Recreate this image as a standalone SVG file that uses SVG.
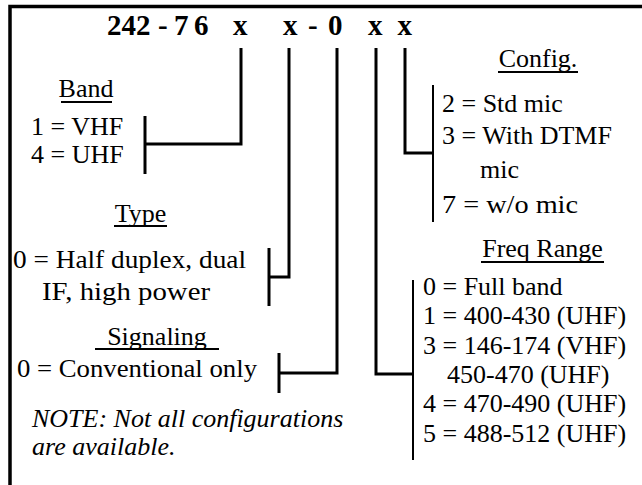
<svg xmlns="http://www.w3.org/2000/svg" width="642" height="485" viewBox="0 0 642 485">
<style>
.t{font-family:"Liberation Serif","Times New Roman",serif;font-size:26px;fill:#000}
.h{text-anchor:middle}
.i{font-style:italic}
.title{font-family:"Liberation Serif","Times New Roman",serif;font-size:29px;font-weight:bold;fill:#000}
.c{stroke:#000;stroke-width:3;fill:none}
.b{stroke:#000;stroke-width:2;fill:none}
.u{stroke:#000;stroke-width:2}
.frame{stroke:#000;stroke-width:3.5;fill:none}
</style>
<rect width="642" height="485" fill="#fff"/>
<path class="frame" d="M10,485 V6.5 H642"/>
<g id="title">
<text class="title" y="35"><tspan x="107">242</tspan><tspan x="158">-</tspan><tspan x="174">7</tspan><tspan x="194">6</tspan><tspan x="233">x</tspan><tspan x="283">x</tspan><tspan x="308">-</tspan><tspan x="328">0</tspan><tspan x="368">x</tspan><tspan x="397.5">x</tspan></text>
</g>
<g id="band">
<text class="t h" x="86" y="97">Band</text>
<line class="u" x1="61" y1="102" x2="112" y2="102"/>
<text class="t" x="31" y="135">1 = VHF</text>
<text class="t" x="31" y="163">4 = UHF</text>
<line class="c" x1="145" y1="116" x2="145" y2="174"/>
</g>
<g id="type">
<text class="t h" x="140.5" y="222">Type</text>
<line class="u" x1="114" y1="226" x2="167" y2="226"/>
<text class="t" x="13" y="268" textLength="233" lengthAdjust="spacingAndGlyphs">0 = Half duplex, dual</text>
<text class="t" x="42" y="300" textLength="168" lengthAdjust="spacingAndGlyphs">IF, high power</text>
<line class="c" x1="269" y1="248" x2="269" y2="306"/>
</g>
<g id="signaling">
<text class="t h" x="157" y="345">Signaling</text>
<line class="u" x1="95" y1="349" x2="219" y2="349"/>
<text class="t" x="17" y="377" textLength="240" lengthAdjust="spacingAndGlyphs">0 = Conventional only</text>
<line class="c" x1="279" y1="353" x2="279" y2="393"/>
</g>
<g id="note">
<text class="t i" x="32" y="427">NOTE: Not all configurations</text>
<text class="t i" x="32" y="455">are available.</text>
</g>
<g id="config">
<text class="t h" x="538" y="67">Config.</text>
<line class="u" x1="498" y1="72" x2="578" y2="72"/>
<text class="t" x="442" y="112">2 = Std mic</text>
<text class="t" x="442" y="144">3 = With DTMF</text>
<text class="t" x="480" y="178">mic</text>
<text class="t" x="442" y="213" textLength="136" lengthAdjust="spacingAndGlyphs">7 = w/o mic</text>
<line class="b" x1="433" y1="85" x2="433" y2="222"/>
</g>
<g id="freq">
<text class="t h" x="542.5" y="257">Freq Range</text>
<line class="u" x1="481" y1="262" x2="604" y2="262"/>
<text class="t" x="423" y="295">0 = Full band</text>
<text class="t" x="423" y="324">1 = 400-430 (UHF)</text>
<text class="t" x="423" y="354">3 = 146-174 (VHF)</text>
<text class="t" x="447" y="383">450-470 (UHF)</text>
<text class="t" x="423" y="412">4 = 470-490 (UHF)</text>
<text class="t" x="423" y="442">5 = 488-512 (UHF)</text>
<line class="b" x1="413" y1="280" x2="413" y2="460"/>
</g>
<g id="connectors">
<path class="c" d="M241,48 V144 H145"/>
<path class="c" d="M289,48 V277 H269"/>
<path class="c" d="M337,48 V373 H279"/>
<path class="c" d="M376,48 V374 H413"/>
<path class="c" d="M405,48 V153 H433"/>
</g>
</svg>
